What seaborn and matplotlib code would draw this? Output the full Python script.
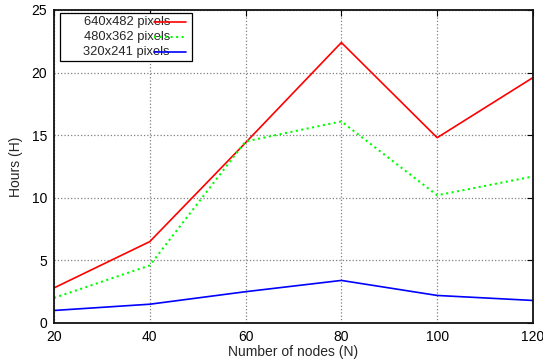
import numpy as np
import pandas as pd
import matplotlib
matplotlib.use("Agg")
import matplotlib.pyplot as plt
from matplotlib.lines import Line2D
from matplotlib.patches import Rectangle
import seaborn as sns

nodes = [20, 40, 60, 80, 100, 120]
hours_640 = [2.8, 6.5, 14.4, 22.4, 14.8, 19.6]
hours_480 = [2.0, 4.6, 14.5, 16.1, 10.2, 11.7]
hours_320 = [1.0, 1.5, 2.5, 3.4, 2.2, 1.8]
labels = ["640x482 pixels", "480x362 pixels", "320x241 pixels"]
colors = ["#ff0000", "#00ff00", "#0000ff"]
styles = ["-", ":", "-"]

df = pd.DataFrame({
    "nodes": nodes * 3,
    "hours": hours_640 + hours_480 + hours_320,
    "res": [labels[0]] * 6 + [labels[1]] * 6 + [labels[2]] * 6,
})

sns.set_style("white")
plt.rcParams["font.family"] = ["Liberation Sans", "DejaVu Sans"]

fig = plt.figure(figsize=(5.43, 3.63), dpi=100)
ax = fig.add_axes([0.0994, 0.1102, 0.8821, 0.8623])

for lab, col, ls in zip(labels, colors, styles):
    sub = df[df["res"] == lab]
    sns.lineplot(data=sub, x="nodes", y="hours", ax=ax, color=col,
                 linestyle=ls, linewidth=1.5 if ls == ":" else 1.2,
                 legend=False)

ax.set_xlim(20, 120)
ax.set_ylim(0, 25)
ax.set_xticks([20, 40, 60, 80, 100, 120])
ax.set_yticks([0, 5, 10, 15, 20, 25])
ax.grid(True, color="#808080", linestyle=":", linewidth=0.9)
ax.tick_params(direction="in", top=True, right=True, length=4,
               labelsize=10, colors="black", pad=5)
for sp in ax.spines.values():
    sp.set_visible(True)
    sp.set_color("#111111")
    sp.set_linewidth(1.3)
ax.set_xlabel("Number of nodes (N)", fontsize=10, labelpad=1)
ax.set_ylabel("Hours (H)", fontsize=10, labelpad=6)

# legend box: text first, line sample overlapping the text end
box = Rectangle((0.0125, 0.837), 0.2755, 0.153, transform=ax.transAxes,
                facecolor="white", edgecolor="black", linewidth=0.9,
                zorder=5)
ax.add_patch(box)
rows_y = [0.963, 0.915, 0.867]
for lab, col, ls, yy in zip(labels, colors, styles, rows_y):
    ax.text(0.242, yy, lab, transform=ax.transAxes, ha="right",
            va="center", fontsize=9.3, zorder=6)
    ax.add_line(Line2D([0.209, 0.276], [yy, yy], transform=ax.transAxes,
                       color=col, linestyle=ls,
                       linewidth=1.5 if ls == ":" else 1.2, zorder=7))

fig.savefig("out.png", dpi=100)
